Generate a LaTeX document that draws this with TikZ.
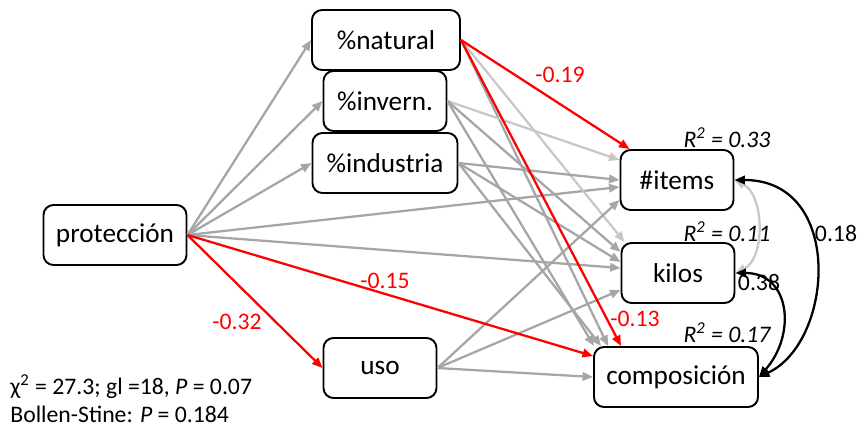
\documentclass[tikz,border=0pt]{standalone}
\usepackage{fontspec}
\setmainfont{Carlito}
\usepackage{xcolor}
\usepackage{tikz}
\usetikzlibrary{calc,arrows.meta}
\definecolor{pathgray}{HTML}{A6A6A6}
\definecolor{pathlight}{HTML}{C8C8C8}
\definecolor{sigred}{HTML}{FF0000}
\tikzset{
  semvar/.style={draw=black, fill=white, rounded corners=2mm, line width=1.1pt,
                 minimum height=12mm, inner sep=1pt,
                 font=\fontsize{15.5}{18}\selectfont},
  sempath/.style={draw=pathgray, line width=1.3pt,
                  -{Triangle[length=2.1mm,width=1.7mm]}},
  semlight/.style={sempath, draw=pathlight},
  semsig/.style={sempath, draw=sigred},
  semcov/.style={line width=1.3pt,
                 {Triangle[length=2.1mm,width=1.7mm]}-{Triangle[length=2.1mm,width=1.7mm]}},
  semlab/.style={font=\fontsize{13.5}{16}\selectfont},
  semsiglab/.style={semlab, text=sigred},
  semrsq/.style={font=\fontsize{13.5}{16}\selectfont\itshape}
}

\begin{document}
\begin{tikzpicture}
  \useasboundingbox (0,0) rectangle (17.2,-8.6);
  % variables
  \node[semvar, minimum width=2.96cm] (natural) at (7.72,-0.80) {\%natural};
  \node[semvar, minimum width=2.46cm] (invern) at (7.70,-2.02) {\%invern.};
  \node[semvar, minimum width=2.90cm] (industria) at (7.70,-3.26) {\%industria};
  \node[semvar, minimum width=2.86cm] (proteccion) at (2.30,-4.70) {protección};
  \node[semvar, minimum width=2.26cm] (uso) at (7.60,-7.36) {uso};
  \node[semvar, minimum width=2.26cm] (items) at (13.54,-3.60) {\#items};
  \node[semvar, minimum width=2.26cm] (kilos) at (13.56,-5.46) {kilos};
  \node[semvar, minimum width=3.28cm] (comp) at (13.52,-7.54) {composición};

  % non-significant paths
  \draw[sempath] (proteccion.east) -- (natural.west);
  \draw[sempath] (proteccion.east) -- (invern.west);
  \draw[sempath] (proteccion.east) -- (industria.west);
  \draw[sempath] (proteccion.east) -- ($(items.west)+(0,-0.14)$);
  \draw[sempath] (proteccion.east) -- ($(kilos.west)+(0,0.10)$);
  \draw[semlight] (natural.east) -- ($(kilos.north west)+(0.08,0)$);
  \draw[sempath] (natural.east) -- ($(comp.north west)+(0.30,0)$);
  \draw[semlight] (invern.east) -- ($(items.west)+(0,0.40)$);
  \draw[sempath] (invern.east) -- ($(kilos.west)+(0,0.42)$);
  \draw[sempath] (invern.east) -- ($(comp.north west)+(0.02,0)$);
  \draw[sempath] (industria.east) -- (items.west);
  \draw[sempath] (industria.east) -- ($(kilos.west)+(0,0.22)$);
  \draw[sempath] (industria.east) -- ($(comp.north west)+(0.16,0)$);
  \draw[sempath] (uso.east) -- ($(items.west)+(0,-0.40)$);
  \draw[sempath] (uso.east) -- ($(kilos.west)+(0,-0.34)$);
  \draw[sempath] (uso.east) -- (comp.west);

  % significant paths
  \draw[semsig] (natural.east) -- ($(items.north west)+(0.20,0)$);
  \draw[semsig] (natural.east) -- ($(comp.north west)+(0.56,0)$);
  \draw[semsig] (proteccion.east) -- (uso.west);
  \draw[semsig] (proteccion.east) -- ($(comp.west)+(0,0.42)$);
  \node[semsiglab] (l19) at (11.20,-1.50) {-0.19};
  \node[semsiglab] (l15) at (7.70,-5.62) {-0.15};
  \node[semsiglab] (l32) at (4.74,-6.44) {-0.32};
  \node[semsiglab] (l13) at (12.70,-6.38) {-0.13};

  % covariances
  \draw[semcov, draw=pathlight] (items.east) .. controls +(0.6,-0.3) and +(0.6,0.3) .. (kilos.east);
  \draw[semcov] (items.east) .. controls +(2.2,0) and +(1.5,0.7) .. (comp.east);
  \draw[semcov] (kilos.east) .. controls +(1.1,0) and +(0.75,0.85) .. (comp.east);
  \node[semlab] (c18) at (16.72,-4.66) {0.18};
  \node[semlab] (c38) at (15.18,-5.64) {0.38};

  % explained variance
  \node[semrsq] (r1) at (14.54,-2.76) {R\textsuperscript{2} = 0.33};
  \node[semrsq] (r2) at (14.54,-4.64) {R\textsuperscript{2} = 0.11};
  \node[semrsq] (r3) at (14.54,-6.66) {R\textsuperscript{2} = 0.17};

  % fit
  \node[semlab, align=left, anchor=west, inner sep=0pt] (fit) at (0.20,-7.97)
    {χ\textsuperscript{2} = 27.3; gl =18, \textit{P} = 0.07\\
     Bollen-Stine: \textit{P} = 0.184};
\end{tikzpicture}
\end{document}
